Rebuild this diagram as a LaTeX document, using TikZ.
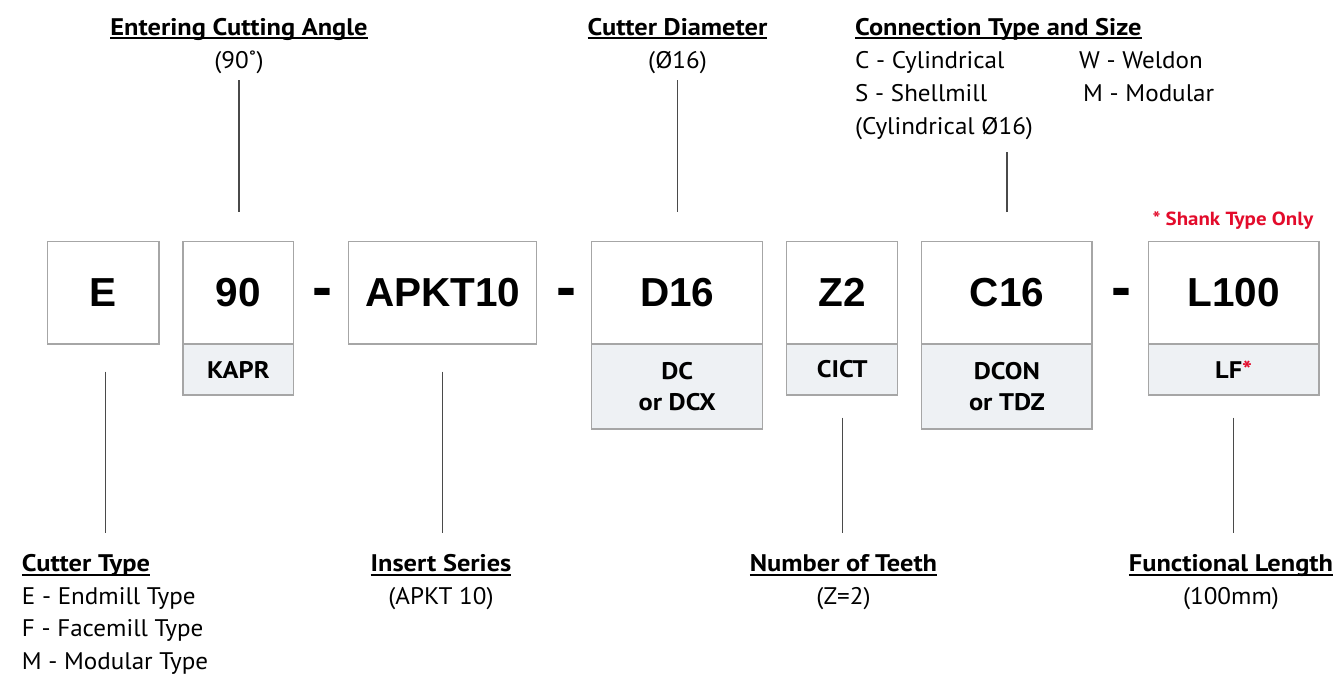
\documentclass[tikz,border=0pt]{standalone}
\usepackage{fontspec}
\setmainfont{PT Sans}[FakeStretch=1.045, BoldFeatures={FakeStretch=1.1}]
\newfontfamily\codefont{Liberation Sans}
\usetikzlibrary{positioning}

\definecolor{boxgray}{HTML}{A6A6A6}
\definecolor{cellfill}{HTML}{EEF1F4}
\definecolor{leadgray}{HTML}{4A4A4A}
\definecolor{notered}{HTML}{E30B2B}

% underlined heading
\newcommand{\headline}[1]{\sbox0{\bfseries #1}\rlap{\rule[-4.2pt]{\wd0}{1.8pt}}\usebox0}

\tikzset{
  codebox/.style={draw=boxgray, line width=1.4pt, fill=white, inner sep=0pt, outer sep=0pt,
    minimum height=102.3, font=\codefont\bfseries\fontsize{40.5}{48}\selectfont},
  cellbox/.style={draw=boxgray, line width=1.4pt, fill=cellfill, inner sep=0pt, outer sep=0pt,
    align=center, font=\bfseries\fontsize{24}{31.4}\selectfont},
  sepdash/.style={inner sep=0pt, anchor=base, font=\codefont\bfseries\fontsize{60}{60}\selectfont},
  headtext/.style={inner sep=0pt, anchor=base, font=\fontsize{24}{32}\selectfont},
  infotext/.style={inner sep=0pt, anchor=base, font=\fontsize{24}{32}\selectfont},
  lead/.style={draw=leadgray, line width=1.4pt},
}

\begin{document}
\begin{tikzpicture}[x=1pt,y=-1pt]
    \useasboundingbox[fill=white] (0,0) rectangle (1342,675);

    % code boxes
    \node[codebox, minimum width=111.7] (e) at (103.2,292.85) {E};
    \node[codebox, minimum width=110.7, right=24pt of e] (ninety) {90};
    \node[codebox, minimum width=188, right=55pt of ninety] (apkt) {APKT10};
    \node[codebox, minimum width=171, right=55pt of apkt] (d16) {D16};
    \node[codebox, minimum width=111, right=24pt of d16] (z2) {Z2};
    \node[codebox, minimum width=170.3, right=24pt of z2] (c16) {C16};
    \node[codebox, minimum width=170.3, right=56.5pt of c16] (l100) {L100};

    \node[cellbox, minimum width=110.7, minimum height=51, below=0pt of ninety] (kapr) {KAPR};
    \node[cellbox, minimum width=171, minimum height=85, below=0pt of d16] (dc) {DC\\or DCX};
    \node[cellbox, minimum width=111, minimum height=51, below=0pt of z2] (cict) {CICT};
    \node[cellbox, minimum width=170.3, minimum height=85, below=0pt of c16] (dcon) {DCON\\or TDZ};
    \node[cellbox, minimum width=170.3, minimum height=51, below=0pt of l100] (lf) {LF{\color{notered}*}};

    \node[sepdash] (dash1) at (322,307) {-};
    \node[sepdash] (dash2) at (566.5,307) {-};
    \node[sepdash] (dash3) at (1121.5,307) {-};

    % top labels
    \node[headtext] (angle) at (239,35) {\headline{Entering Cutting Angle}};
    \node[infotext] (angleval) at (239,68) {(90˚)};
    \node[headtext] (diam) at (677.5,35) {\headline{Cutter Diameter}};
    \node[infotext] (diamval) at (677.5,68) {(Ø16)};
    \node[headtext, anchor=base west] (conn) at (855,35) {\headline{Connection Type and Size}};
    \node[infotext, anchor=base west] (conncyl) at (855,68) {C - Cylindrical};
    \node[infotext, anchor=base west] (connwel) at (1079,68) {W - Weldon};
    \node[infotext, anchor=base west] (connshell) at (855,101) {S - Shellmill};
    \node[infotext, anchor=base west] (connmod) at (1083,101) {M - Modular};
    \node[infotext, anchor=base west] (connval) at (855,134) {(Cylindrical Ø16)};
    \node[inner sep=0pt, anchor=base, text=notered, font=\bfseries\fontsize{19}{22}\selectfont] (shank) at (1233,225) {* Shank Type Only};

    % bottom labels
    \node[headtext, anchor=base west] (ctype) at (21.7,571.7) {\headline{Cutter Type}};
    \node[infotext, anchor=base west] (ctypee) at (21.7,604) {E - Endmill Type};
    \node[infotext, anchor=base west] (ctypef) at (21.7,636.5) {F - Facemill Type};
    \node[infotext, anchor=base west] (ctypem) at (21.7,669) {M - Modular Type};
    \node[headtext] (insert) at (441,571.7) {\headline{Insert Series}};
    \node[infotext] (insertval) at (441,604) {(APKT 10)};
    \node[headtext] (teeth) at (843.5,571.7) {\headline{Number of Teeth}};
    \node[infotext] (teethval) at (843.5,604) {(Z=2)};
    \node[headtext] (length) at (1231,571.7) {\headline{Functional Length}};
    \node[infotext] (lengthval) at (1231,604) {(100mm)};

    % leader lines
    \draw[lead, shorten <=12pt, shorten >=29.7pt] (angleval.base) -- (angleval.base |- ninety.north);
    \draw[lead, shorten <=12pt, shorten >=29.7pt] (diamval.base) -- (diamval.base |- d16.north);
    \draw[lead, shorten <=29.7pt, shorten >=18pt] (c16.north) -- (c16.north |- connval.base);
    \draw[lead, shorten <=27.7pt, shorten >=39pt] ([xshift=2.5pt]e.south) -- ([xshift=2.5pt]e.south |- ctype.base);
    \draw[lead, shorten <=27.7pt, shorten >=39pt] (apkt.south) -- (apkt.south |- insert.base);
    \draw[lead, shorten <=22.7pt, shorten >=39pt] (cict.south) -- (cict.south |- teeth.base);
    \draw[lead, shorten <=22.7pt, shorten >=39pt] (lf.south) -- (lf.south |- length.base);
\end{tikzpicture}
\end{document}
